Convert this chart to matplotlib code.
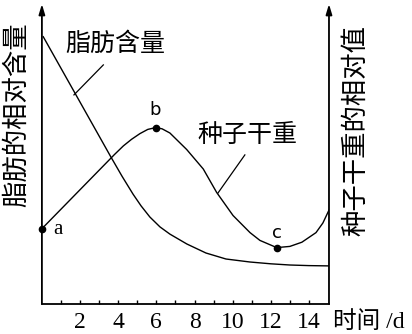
import matplotlib
matplotlib.use("Agg")
import matplotlib.pyplot as plt

plt.rcParams['font.family'] = ['Noto Sans CJK SC', 'DejaVu Sans']

# values (time in days, relative units)
fat_days = [0.07, 3.6, 4.2, 4.78, 5.2, 5.66, 6.19, 6.71, 7.6, 8.6, 9.65, 10.91, 12.0, 13.0, 14.0, 15.05]
fat_value = [8.91, 4.92, 4.26, 3.66, 3.27, 2.90, 2.57, 2.33, 2.00, 1.70, 1.50, 1.40, 1.34, 1.30, 1.28, 1.27]

seed_days = [0.0, 3.8, 4.27, 4.7, 5.14, 5.55, 5.96, 6.3, 6.71, 7.59, 8.46, 9.16, 10.02, 10.91, 11.43, 12.31, 13.0, 13.63, 14.37, 14.73, 15.05]
seed_value = [2.51, 4.98, 5.27, 5.49, 5.68, 5.82, 5.88, 5.84, 5.70, 5.15, 4.50, 3.72, 2.95, 2.38, 2.12, 1.88, 1.92, 2.06, 2.38, 2.70, 3.13]

marked_days = [0.0, 5.96, 12.31]
marked_value = [2.51, 5.88, 1.88]
marked_names = ["a", "b", "c"]

tick_days = [2, 4, 6, 8, 10, 12, 14]
minor_days = [1, 3, 5, 7, 9, 11, 13]

fig = plt.figure(figsize=(4.12, 3.34), dpi=100)
ax = fig.add_axes([0.1017, 0.0898, 0.6968, 0.8982])
ax.set_xlim(0, 15.05)
ax.set_ylim(0, 10)

ax.plot(fat_days, fat_value, color="black", linewidth=1.0)
ax.plot(seed_days, seed_value, color="black", linewidth=1.0)
ax.plot(marked_days, marked_value, "o", color="black", markersize=4.5, clip_on=False, zorder=5)

ax.text(0.84, 2.5, marked_names[0], family="Liberation Serif", fontsize=15, ha="center", va="center")
ax.text(5.93, 6.47, marked_names[1], family="DejaVu Sans", fontsize=13, ha="center", va="center")
ax.text(12.32, 2.37, marked_names[2], family="DejaVu Sans", fontsize=13, ha="center", va="center")

# curve names with leader lines
ax.text(3.83, 8.67, "脂肪含量", fontsize=18, fontweight="light", ha="center", va="center")
ax.plot([3.22, 1.68], [7.97, 6.97], color="black", linewidth=0.9)
ax.text(10.75, 5.63, "种子干重", fontsize=18, fontweight="light", ha="center", va="center")
ax.plot([10.64, 9.23], [4.97, 3.70], color="black", linewidth=0.9)

# axes: bottom spine plus two arrowed vertical axes
for side in ["left", "right", "top"]:
    ax.spines[side].set_visible(False)
ax.spines["bottom"].set_linewidth(1.3)
arrow = dict(arrowstyle="-|>,head_length=0.6,head_width=0.18", color="black", linewidth=1.3, shrinkA=0, shrinkB=0)
ax.annotate("", xy=(0, 10), xytext=(0, 0), arrowprops=arrow, annotation_clip=False)
ax.annotate("", xy=(15.05, 10), xytext=(15.05, 0), arrowprops=arrow, annotation_clip=False)

ax.set_yticks([])
ax.set_xticks(tick_days)
ax.set_xticks(minor_days, minor=True)
ax.tick_params(axis="x", which="both", direction="in", length=3, width=1.0, pad=6)
ax.set_xticklabels([str(d) for d in tick_days], family="Liberation Serif", fontsize=17)

ax.text(15.26, -0.6, "时间 /d", family=["Liberation Serif", "Noto Sans CJK SC"], fontsize=17,
        ha="left", va="center", clip_on=False)

fig.text(0.041, 0.656, "脂肪的相对含量", fontsize=19, fontweight="light", rotation=90, ha="center", va="center")
fig.text(0.864, 0.608, "种子干重的相对值", fontsize=19, fontweight="light", rotation=90, ha="center", va="center")

fig.savefig("out.png", dpi=100)
